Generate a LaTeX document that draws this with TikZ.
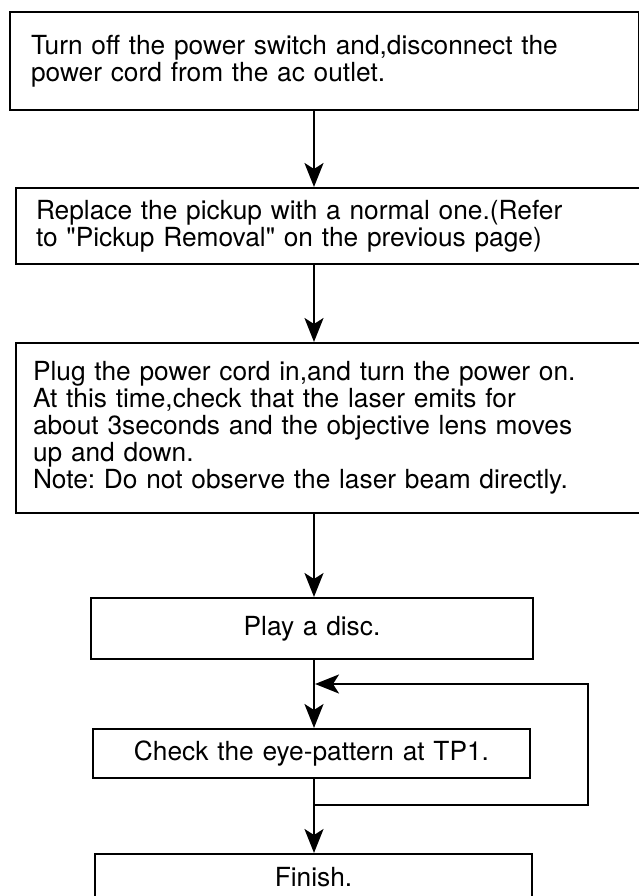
\documentclass[tikz,border=0pt]{standalone}
\usepackage{fontspec}
\setmainfont{TeX Gyre Heros}[Ligatures=TeXOff]
\usetikzlibrary{arrows.meta}
\newcommand\flowfont{\fontsize{26.3}{27}\selectfont\frenchspacing}
\tikzset{
  box/.style={draw, line width=2pt, anchor=north west, inner ysep=0pt, font=\flowfont},
  lbox/.style={box, align=left},
  cbox/.style={box, align=center, inner xsep=0pt},
  flow/.style={line width=2pt, -{Stealth[length=24pt,width=19pt,inset=6pt]}},
  plain/.style={line width=2pt}
}
\begin{document}
\begin{tikzpicture}[x=1pt,y=-1pt]
\useasboundingbox (0,0) rectangle (639,896);
\clip (0,0) rectangle (639,896);
\node[lbox, inner xsep=21pt, text width=587pt, minimum height=98pt] (b1) at (9,11)
  {Turn off the power switch and,disconnect the\\power cord from the ac outlet.};
\node[lbox, inner xsep=20pt, text width=595pt, minimum height=76pt] (b2) at (15,187)
  {Replace the pickup with a normal one.(Refer\\to "Pickup Removal" on the previous page)};
\node[lbox, inner xsep=17pt, text width=601pt, minimum height=170pt] (b3) at (15,342)
  {Plug the power cord in,and turn the power on.\\At this time,check that the laser emits for\\about 3seconds and the objective lens moves\\up and down.\\Note: Do not observe the laser beam directly.};
\node[cbox, text width=442pt, minimum height=61pt] (b4) at (90,597) {Play a disc.};
\node[cbox, text width=437pt, minimum height=49pt] (b5) at (92,728) {Check the eye-pattern at TP1.};
\node[cbox, text width=437pt, minimum height=46pt] (b6) at (94,853) {Finish.};
\coordinate (col) at (314,0);
\coordinate (split) at (314,805);
\coordinate (rc) at (588,684);
\coordinate (entry) at (315,684);
\draw[flow] (b1.south -| col) -- (b2.north -| col);
\draw[flow] (b2.south -| col) -- (b3.north -| col);
\draw[flow] (b3.south -| col) -- (b4.north -| col);
\draw[flow] (b4.south -| col) -- (b5.north -| col);
\draw[flow] (b5.south -| col) -- (b6.north -| col);
\draw[flow] (split) -| (rc) -- (entry);
\end{tikzpicture}
\end{document}
